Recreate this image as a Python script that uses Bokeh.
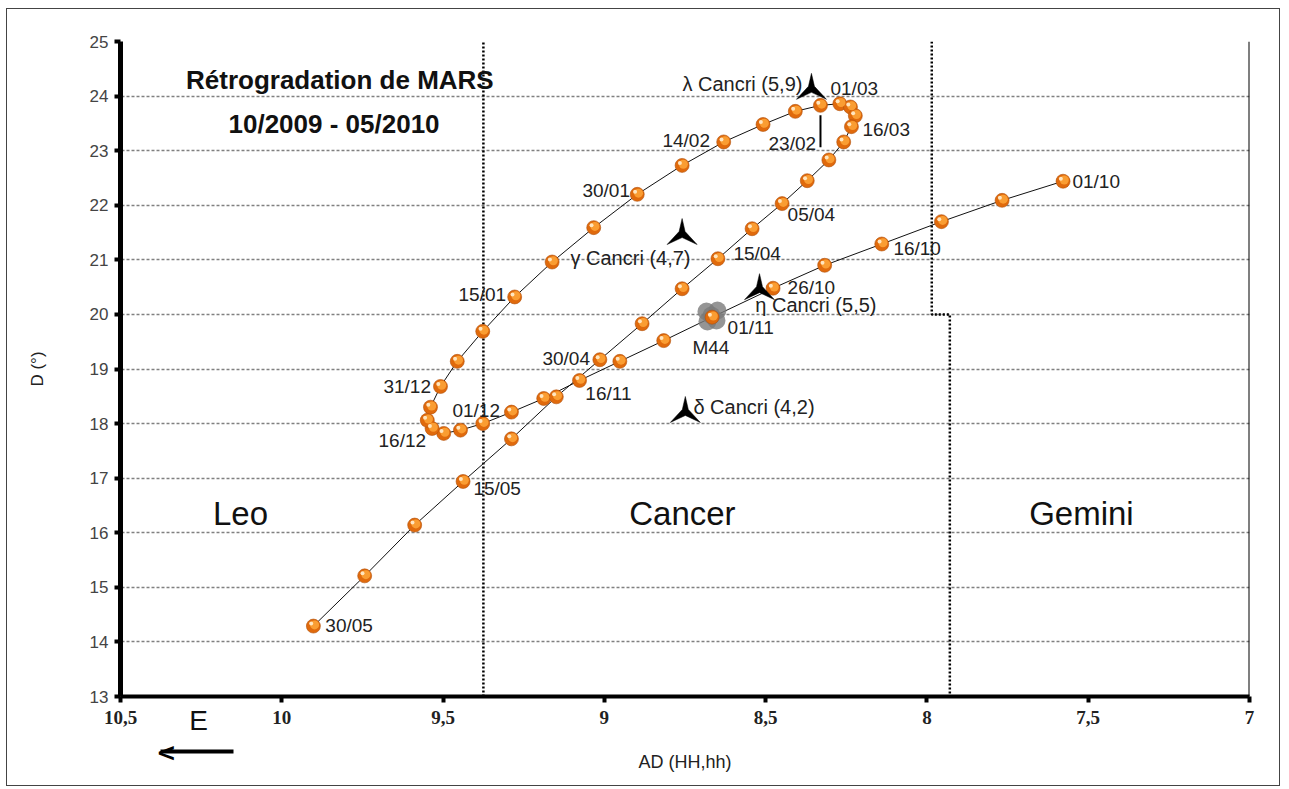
from bokeh.plotting import figure
from bokeh.models import (Range1d, FixedTicker, CustomJSTickFormatter, Span, LinearAxis)
from bokeh.core.properties import value
from bokeh.embed import file_html
from bokeh.resources import INLINE

# ---------------- data (RA in hours, Dec in degrees) ----------------
mars_ra = [7.578, 7.767, 7.955, 8.140, 8.317, 8.477, 8.666, 8.816, 8.952, 9.077,
           9.188, 9.288, 9.377, 9.446, 9.498, 9.534, 9.549, 9.539, 9.508, 9.456,
           9.377, 9.278, 9.162, 9.033, 8.898, 8.759, 8.630, 8.508, 8.408, 8.330,
           8.270, 8.237, 8.222, 8.234, 8.258, 8.304, 8.371, 8.449, 8.542, 8.648,
           8.759, 8.883, 9.014, 9.149, 9.288, 9.438, 9.588, 9.743, 9.902]
mars_dec = [22.44, 22.09, 21.70, 21.29, 20.90, 20.48, 19.95, 19.52, 19.14, 18.79,
            18.46, 18.21, 18.00, 17.88, 17.82, 17.91, 18.06, 18.30, 18.68, 19.14,
            19.69, 20.32, 20.96, 21.59, 22.20, 22.73, 23.16, 23.48, 23.72, 23.83,
            23.86, 23.80, 23.64, 23.44, 23.16, 22.83, 22.45, 22.03, 21.57, 21.02,
            20.47, 19.83, 19.17, 18.49, 17.72, 16.94, 16.14, 15.21, 14.29]

date_labels = ["01/10", "16/10", "26/10", "01/11", "16/11", "01/12", "16/12", "31/12",
               "15/01", "30/01", "14/02", "23/02", "01/03", "16/03", "05/04", "15/04",
               "30/04", "15/05", "30/05"]
date_label_ra = [7.549, 8.104, 8.432, 8.618, 9.059, 9.471, 9.700, 9.685,
                 9.452, 9.068, 8.820, 8.491, 8.299, 8.200, 8.432, 8.600,
                 9.192, 9.406, 9.865]
date_label_dec = [22.44, 21.21, 20.49, 19.76, 18.55, 18.24, 17.69, 18.68,
                  20.37, 22.27, 23.19, 23.13, 24.14, 23.39, 21.83, 21.12,
                  19.19, 16.81, 14.30]

star_names = ["λ Cancri (5,9)", "γ Cancri (4,7)", "η Cancri (5,5)", "δ Cancri (4,2)"]
star_ra = [8.358, 8.759, 8.519, 8.749]
star_dec = [24.16, 21.50, 20.49, 18.24]
star_label_ra = [8.758, 9.105, 8.532, 8.724]
star_label_dec = [24.23, 21.04, 20.18, 18.30]

m44_name = "M44"
m44_ra, m44_dec = 8.668, 19.98
m44_label_ra, m44_label_dec = 8.727, 19.40

constellations = ["Leo", "Cancer", "Gemini"]
const_ra = [10.128, 8.758, 7.521]
const_dec = [16.36, 16.36, 16.36]

leo_cancer_ra = [9.375, 9.375]
leo_cancer_dec = [13, 25]
cancer_gemini_ra = [7.985, 7.985, 7.929, 7.929]
cancer_gemini_dec = [25, 20.0, 20.0, 13]

title_lines = ["Rétrogradation de MARS", "10/2009 - 05/2010"]
title_ra = [9.820, 9.838]
title_dec = [24.29, 23.48]

x_ticks = [10.5, 10, 9.5, 9, 8.5, 8, 7.5, 7]
y_ticks = list(range(13, 26))

# pointer for 23/02 (index of the point)
pointer_idx = 29

# east direction marker under the axis (RA positions)
east_text = "E"
east_ra = 10.258
arrow_head = "<"
arrow_head_ra = 10.358
arrow_shaft = (10.150, 10.376)

# ---------------- figure ----------------
W, H = 1274, 778
ML, MR, MT, MB = 113, 32, 32, 91
p = figure(width=W, height=H, output_backend="svg", toolbar_location=None,
           x_range=Range1d(10.5, 7), y_range=Range1d(13, 25),
           min_border_left=ML, min_border_right=MR, min_border_top=MT,
           min_border_bottom=MB, background_fill_color="white",
           border_fill_color="white", outline_line_color=None)
p.styles = {"border": "1px solid #444", "margin-left": "6px", "margin-top": "8px"}

FW = (W - ML - MR) / 3.5     # px per hour
FH = (H - MT - MB) / 12.0    # px per degree

# main axes
p.xaxis.ticker = FixedTicker(ticks=x_ticks)
p.xaxis.formatter = CustomJSTickFormatter(code="return tick.toString().replace('.', ',');")
p.yaxis.ticker = FixedTicker(ticks=y_ticks)
for ax in (p.xaxis[0], p.yaxis[0]):
    ax.axis_line_color = "black"
    ax.major_tick_line_color = "black"
    ax.minor_tick_line_color = None
    ax.major_tick_in = 0
    ax.major_tick_out = 6
p.yaxis.axis_line_width = 5
p.yaxis.major_tick_line_width = 4
p.xaxis.axis_line_width = 4
p.xaxis.major_tick_line_width = 4
p.yaxis.major_label_text_font = "Liberation Sans"
p.yaxis.major_label_text_font_size = "17px"
p.yaxis.major_label_text_color = "#444444"
p.yaxis.major_label_standoff = 6
p.xaxis.major_label_text_font = "Liberation Serif"
p.xaxis.major_label_text_font_style = "bold"
p.xaxis.major_label_text_font_size = "19px"
p.xaxis.major_label_text_color = "#222222"
p.xaxis.major_label_standoff = 8
p.yaxis.axis_label = "D (°)"
p.yaxis.axis_label_text_font = "Liberation Sans"
p.yaxis.axis_label_text_font_size = "17px"
p.yaxis.axis_label_text_font_style = "normal"
p.yaxis.axis_label_text_color = "#222222"
p.yaxis.axis_label_standoff = 40

# "E" letter (extra axis below, label only)
ax_e = LinearAxis(ticker=FixedTicker(ticks=[east_ra]),
                  formatter=CustomJSTickFormatter(code="return '%s';" % east_text),
                  axis_line_color=None, major_tick_line_color=None, minor_tick_line_color=None,
                  major_tick_in=0, major_tick_out=0, major_label_standoff=-22,
                  major_label_text_font="Liberation Sans", major_label_text_font_size="28px",
                  major_label_text_color="#111111",
                  axis_label=" ", axis_label_text_font_size="9px", axis_label_standoff=0)
p.add_layout(ax_e, "below")

# arrow pointing East (extra axis: bounded line + head), carries the x axis title
ax_arrow = LinearAxis(ticker=FixedTicker(ticks=[arrow_head_ra]),
                      formatter=CustomJSTickFormatter(code="return '%s';" % arrow_head),
                      bounds=arrow_shaft, axis_line_color="black", axis_line_width=4,
                      major_tick_line_color=None, minor_tick_line_color=None,
                      major_tick_in=0, major_tick_out=0, major_label_standoff=-13,
                      major_label_text_font="DejaVu Sans", major_label_text_font_style="bold",
                      major_label_text_font_size="24px", major_label_text_color="black",
                      axis_label="AD (HH,hh)", axis_label_text_font="Liberation Sans",
                      axis_label_text_font_size="18px", axis_label_text_font_style="normal",
                      axis_label_text_color="#222222", axis_label_standoff=-18)
p.add_layout(ax_arrow, "below")

# grid
p.xgrid.grid_line_color = None
p.ygrid.grid_line_color = "#808080"
p.ygrid.grid_line_width = 1.5
p.ygrid.grid_line_dash = "3 2"

# right border of the plot area
p.add_layout(Span(location=7, dimension="height", line_color="black", line_width=2))

# constellation boundaries
p.line(leo_cancer_ra, leo_cancer_dec, line_color="black", line_width=2.5, line_dash="2 2")
p.line(cancer_gemini_ra, cancer_gemini_dec, line_color="black", line_width=2.5, line_dash="2 2")

# Mars path
p.line(mars_ra, mars_dec, line_color="#111111", line_width=1)

# M44 cloud
cloud_dx = [-5, 6, -4, 5, 0]
cloud_dy = [4, 5, -6, -5, 0]
p.scatter([m44_ra - dx / FW for dx in cloud_dx], [m44_dec + dy / FH for dy in cloud_dy],
          size=18, fill_color="#7a7a7a", fill_alpha=0.8, line_color=None)

# Mars points (sphere look)
p.scatter(mars_ra, mars_dec, size=14, fill_color="#e06a0c", line_color="#b0500c", line_width=0.6)
p.scatter([r - 1.2 / FW for r in mars_ra], [d + 1.2 / FH for d in mars_dec],
          size=9, fill_color="#fa9d32", line_color=None)
p.scatter([r + 2.2 / FW for r in mars_ra], [d + 2.5 / FH for d in mars_dec],
          size=4, fill_color="#ffe6c0", line_color=None)

# 23/02 pointer
p.segment(x0=[mars_ra[pointer_idx]], y0=[mars_dec[pointer_idx] - 10 / FH],
          x1=[mars_ra[pointer_idx]], y1=[mars_dec[pointer_idx] - 42 / FH],
          line_color="black", line_width=2)

# star markers (arrowhead shape, pixel offsets)
shape = [(0, 14), (3, 1), (15, -12), (0, -5), (-15, -12), (-3, 1)]
p.patches([[sx - dx / FW for dx, dy in shape] for sx in star_ra],
          [[sy + dy / FH for dx, dy in shape] for sy in star_dec],
          fill_color="black", line_color="black", line_width=0.5)

font = value("Liberation Sans")
p.text(date_label_ra, date_label_dec, text=date_labels, text_font=font,
       text_font_size="19px", text_color="#222222", text_align="left", text_baseline="middle")
p.text(star_label_ra, star_label_dec, text=star_names, text_font=font,
       text_font_size="20px", text_color="#222222", text_align="left", text_baseline="middle")
p.text([m44_label_ra], [m44_label_dec], text=[m44_name], text_font=font,
       text_font_size="19px", text_color="#222222", text_align="left", text_baseline="middle")
p.text(const_ra, const_dec, text=constellations, text_font=font,
       text_font_size="33px", text_color="#111111", text_align="center", text_baseline="middle")
p.text(title_ra, title_dec, text=title_lines, text_font=font, text_font_style="bold",
       text_font_size="26px", text_color="#111111", text_align="center", text_baseline="middle")

open("out.html", "w").write(file_html(p, INLINE))
